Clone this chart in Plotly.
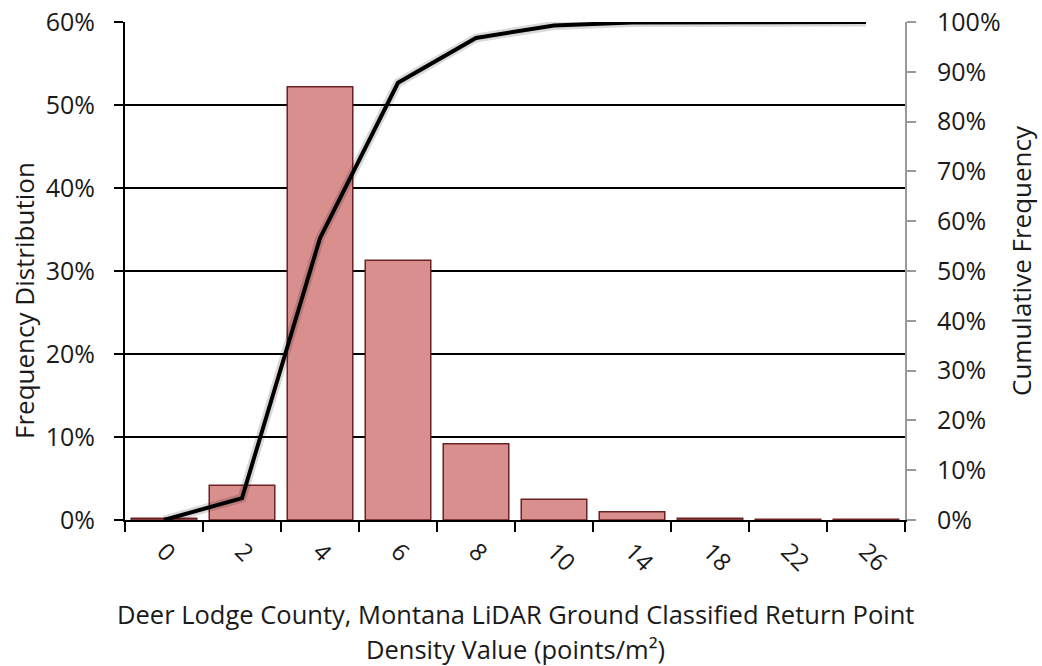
import plotly.graph_objects as go

categories = ["0", "2", "4", "6", "8", "10", "14", "18", "22", "26"]
frequency = [0.002, 0.042, 0.522, 0.313, 0.092, 0.025, 0.010, 0.002, 0.001, 0.001]
cumulative = [0.0, 0.044, 0.566, 0.878, 0.968, 0.993, 0.999, 1.0, 1.0, 1.0]

left_ticks = [0, 0.1, 0.2, 0.3, 0.4, 0.5, 0.6]
right_ticks = [i / 10 for i in range(11)]

x_title_1 = "Deer Lodge County, Montana LiDAR Ground Classified Return Point"
x_title_2 = "Density Value (points/m²)"
y_title = "Frequency Distribution"
y2_title = "Cumulative Frequency"

FONT = "'Open Sans', sans-serif"
TXT = "#1a1a1a"

FIG_W, FIG_H = 1042, 666
PL, PR, PT, PB = 125, 905, 22, 520  # plot area in page pixels

fig = go.Figure()
fig.add_trace(go.Bar(
    x=categories, y=frequency, width=0.84,
    marker=dict(color="#d98f8e", line=dict(color="#6b2222", width=1.5)),
    name="Frequency", yaxis="y",
))
fig.add_trace(go.Scatter(
    x=categories, y=cumulative, mode="lines",
    line=dict(color="rgba(0,0,0,0.15)", width=9),
    yaxis="y2", hoverinfo="skip", showlegend=False,
))
fig.add_trace(go.Scatter(
    x=categories, y=cumulative, mode="lines",
    line=dict(color="black", width=4),
    name="Cumulative", yaxis="y2",
))

W = PR - PL
H = PB - PT


def px(xp):
    return (xp - PL) / W


def py(yp):
    return (PB - yp) / H


fig.update_layout(
    width=FIG_W, height=FIG_H,
    margin=dict(l=PL, r=FIG_W - PR, t=PT, b=FIG_H - PB),
    paper_bgcolor="white", plot_bgcolor="white",
    showlegend=False,
    font=dict(family=FONT, size=24, color=TXT),
    xaxis=dict(
        type="category", tickangle=45, tickson="boundaries",
        ticks="outside", ticklen=10, tickwidth=2, tickcolor="black",
        showline=True, linecolor="black", linewidth=2,
        showgrid=False, tickfont=dict(size=24), automargin=False,
        ticklabelstandoff=6, ticklabeloverflow="allow",
    ),
    yaxis=dict(
        range=[0, 0.6], tickvals=left_ticks, tickformat=".0%",
        showgrid=True, gridcolor="black", gridwidth=2,
        showline=True, linecolor="black", linewidth=2,
        ticks="outside", ticklen=9, tickcolor="black", tickwidth=2,
        zeroline=False, tickfont=dict(size=25), automargin=False,
        ticklabelstandoff=14, ticklabeloverflow="allow",
    ),
    yaxis2=dict(
        range=[0, 1], tickvals=right_ticks, tickformat=".0%",
        overlaying="y", side="right", showgrid=False,
        showline=True, linecolor="#999", linewidth=2,
        ticks="outside", ticklen=9, tickcolor="#999", tickwidth=2,
        zeroline=False, tickfont=dict(size=25), automargin=False,
        ticklabelstandoff=16, ticklabeloverflow="allow",
    ),
    bargap=0.16,
    annotations=[
        dict(text=x_title_1, xref="paper", yref="paper", x=px(515), y=py(614),
             xanchor="center", yanchor="middle", showarrow=False,
             font=dict(size=25.5, color=TXT)),
        dict(text=x_title_2, xref="paper", yref="paper", x=px(515), y=py(649),
             xanchor="center", yanchor="middle", showarrow=False,
             font=dict(size=25.5, color=TXT)),
        dict(text=y_title, xref="paper", yref="paper", x=px(24), y=py(300),
             xanchor="center", yanchor="middle", showarrow=False, textangle=-90,
             font=dict(size=26, color=TXT)),
        dict(text=y2_title, xref="paper", yref="paper", x=px(1021), y=py(260),
             xanchor="center", yanchor="middle", showarrow=False, textangle=-90,
             font=dict(size=26, color=TXT)),
    ],
)

fig.write_html(
    "out.html",
    config={"displayModeBar": False},
    post_script="document.body.style.margin='0';document.body.style.overflow='hidden';",
)
